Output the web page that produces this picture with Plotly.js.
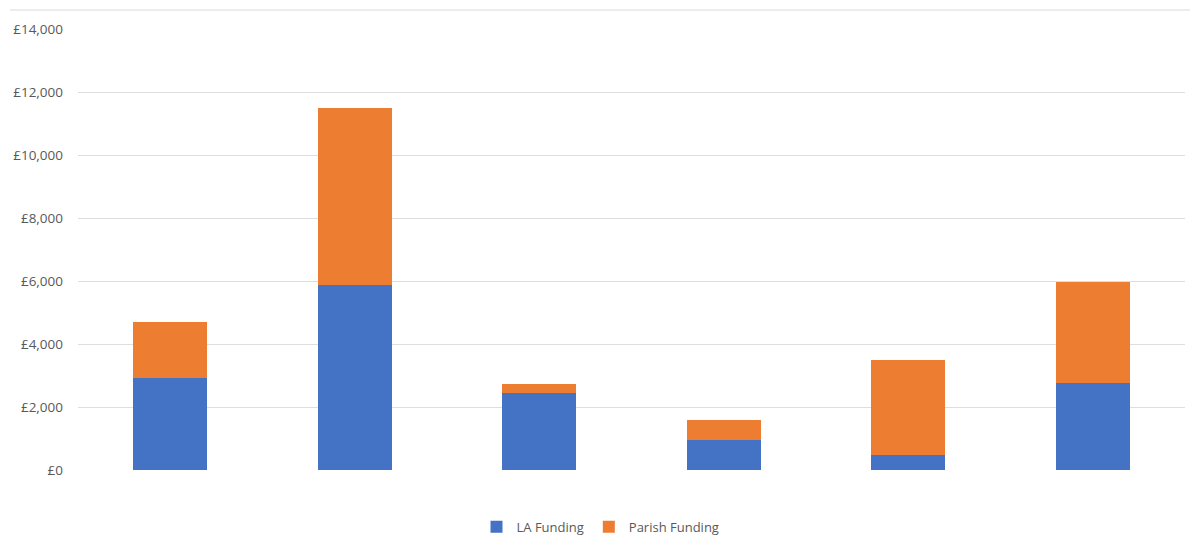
<!DOCTYPE html>
<html>
<head>
<meta charset="utf-8">
<script src="https://cdn.plot.ly/plotly-3.0.1.min.js"></script>
<style>html,body{margin:0;padding:0;background:#fff;}#chart{width:1200px;height:547px;}</style>
</head>
<body>
<div id="chart"></div>
<script>
const categories = ["1", "2", "3", "4", "5", "6"];
const laFunding = [2920, 5880, 2450, 950, 480, 2760];
const parishFunding = [1780, 5620, 280, 640, 3020, 3210];
const yTickValues = [0, 2000, 4000, 6000, 8000, 10000, 12000, 14000];
const yTickLabels = ["£0", "£2,000", "£4,000", "£6,000", "£8,000", "£10,000", "£12,000", "£14,000"];

const traces = [
  {type: "bar", name: "LA Funding", x: categories, y: laFunding, marker: {color: "#4472C4"}, hoverinfo: "y+name"},
  {type: "bar", name: "Parish Funding", x: categories, y: parishFunding, marker: {color: "#ED7D31"}, hoverinfo: "y+name"}
];

const layout = {
  width: 1200, height: 547,
  barmode: "stack",
  bargap: 0.6,
  paper_bgcolor: "#fff", plot_bgcolor: "#fff",
  margin: {l: 78, r: 15, t: 29, b: 77, autoexpand: false},
  font: {family: "'Open Sans', 'DejaVu Sans', sans-serif", size: 12, color: "#595959"},
  xaxis: {showticklabels: false, showgrid: false, zeroline: false, showline: false, ticks: ""},
  yaxis: {range: [0, 14000], tickvals: yTickValues, ticktext: yTickLabels, showgrid: true, gridcolor: "#dedede", gridwidth: 1, zeroline: false, showline: false, ticks: "", ticklen: 0, ticklabelstandoff: 14, tickfont: {size: 13.5, color: "#595959"}},
  legend: {orientation: "h", traceorder: "normal", x: 0.472, xanchor: "center", y: -0.129, yanchor: "middle", font: {size: 13, color: "#595959"}, itemwidth: 30},
  shapes: [{type: "line", xref: "paper", yref: "paper", x0: -0.0614, x1: 1.0045, y0: 1.043, y1: 1.043, line: {color: "#d9d9d9", width: 1}}]
};

Plotly.newPlot("chart", traces, layout, {displayModeBar: false, staticPlot: true});
</script>
</body>
</html>
